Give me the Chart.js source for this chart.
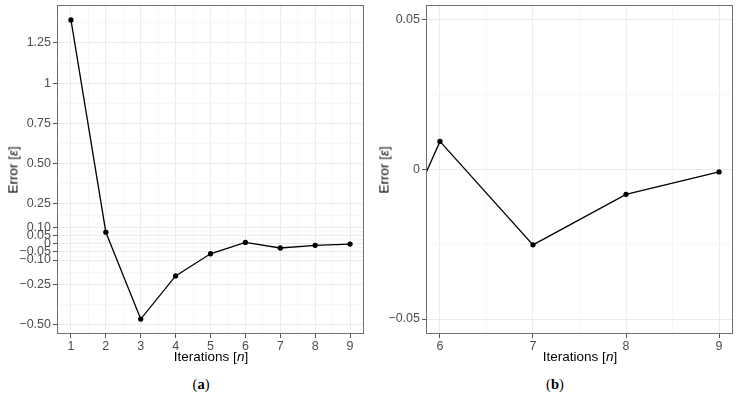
<!DOCTYPE html>
<html>
<head>
<meta charset="utf-8">
<script src="https://cdn.jsdelivr.net/npm/chart.js@4"></script>
<style>
  body { margin: 0; background: #fff; width: 739px; height: 402px; position: relative; overflow: hidden; font-family: "Liberation Sans", Arial, sans-serif; }
  .panel { position: absolute; top: 0; }
  .lbl { position: absolute; font-size: 13.5px; font-weight: normal; color: #000; white-space: nowrap; transform: translate(-50%, -50%); }
  .ylbl { writing-mode: vertical-rl; transform: translate(-50%, -50%) rotate(180deg); }
  .cap { position: absolute; font-family: "Liberation Serif", "DejaVu Serif", serif; font-size: 14.5px; transform: translate(-50%, -50%); }
</style>
</head>
<body>
<div class="panel" style="left:0"><canvas id="chartA" width="370" height="350"></canvas></div>
<div class="panel" style="left:370px"><canvas id="chartB" width="369" height="350"></canvas></div>

<div class="lbl ylbl" style="left:13px; top:170px">Error [<i>ε</i>]</div>
<div class="lbl" style="left:211px; top:356px">Iterations [<i>n</i>]</div>
<div class="lbl ylbl" style="left:384px; top:170px">Error [<i>ε</i>]</div>
<div class="lbl" style="left:580px; top:356px">Iterations [<i>n</i>]</div>
<div class="cap" style="left:201px; top:384px">(<b>a</b>)</div>
<div class="cap" style="left:555px; top:384px">(<b>b</b>)</div>

<script>
// data
const iterations = [1, 2, 3, 4, 5, 6, 7, 8, 9];
const errors = [1.393, 0.073, -0.467, -0.199, -0.061, 0.0094, -0.0252, -0.0083, -0.0008];

// panel (a) axis breaks
const aYBreaks = [-0.5, -0.25, -0.1, -0.05, 0, 0.05, 0.1, 0.25, 0.5, 0.75, 1, 1.25];
const aYLabels = ["\u22120.50", "\u22120.25", "\u22120.10", "\u22120.05", "0", "0.05", "0.10", "0.25", "0.50", "0.75", "1", "1.25"];
const aXBreaks = [1, 2, 3, 4, 5, 6, 7, 8, 9];

// panel (b) axis breaks
const bYBreaks = [-0.05, 0, 0.05];
const bYLabels = ["\u22120.05", "0", "0.05"];
const bXBreaks = [6, 7, 8, 9];

const points = iterations.map((x, i) => ({ x: x, y: errors[i] }));

/* ===== helpers ===== */

// minor breaks halfway between majors (plus one past each end), like ggplot
function minorBreaks(br) {
  const out = [];
  const ext = [br[0] - (br[1] - br[0])].concat(br, [br[br.length - 1] + (br[br.length - 1] - br[br.length - 2])]);
  for (let i = 0; i < ext.length - 1; i++) out.push((ext[i] + ext[i + 1]) / 2);
  return out;
}

function isMajor(v, br) {
  return br.some(b => Math.abs(b - v) < 1e-9);
}

const panelBorder = {
  id: "panelBorder",
  afterDraw(chart) {
    const a = chart.chartArea;
    const ctx = chart.ctx;
    ctx.save();
    ctx.strokeStyle = "#707070";
    ctx.lineWidth = 1;
    ctx.strokeRect(Math.round(a.left) + 0.5, Math.round(a.top) + 0.5, Math.round(a.right - a.left) - 1, Math.round(a.bottom - a.top) - 1);
    ctx.restore();
  }
};

function axis(min, max, breaks, labels, fitSize, isY) {
  return {
    type: "linear",
    min: min,
    max: max,
    afterBuildTicks: s => {
      const all = breaks.concat(minorBreaks(breaks)).filter(v => v >= min && v <= max);
      s.ticks = all.map(v => ({ value: v }));
    },
    afterFit: s => {
      if (isY) s.width = fitSize; else s.height = fitSize;
      // no extra room for overhanging labels
      s.paddingTop = 0; s.paddingBottom = 0; s.paddingLeft = 0; s.paddingRight = 0;
    },
    border: { display: false },
    grid: {
      color: c => isMajor(c.tick.value, breaks) ? "#EBEBEB" : "#F3F3F3",
      lineWidth: c => isMajor(c.tick.value, breaks) ? 1 : 0.7,
      tickColor: c => isMajor(c.tick.value, breaks) ? "#555555" : "rgba(0,0,0,0)",
      tickLength: 4,
      drawTicks: true
    },
    ticks: {
      autoSkip: false,
      maxRotation: 0,
      padding: isY ? 2 : 1,
      color: "#4D4D4D",
      font: { family: "'Liberation Sans', Arial, sans-serif", size: 12.5 },
      callback: v => {
        const i = breaks.findIndex(b => Math.abs(b - v) < 1e-9);
        if (i < 0) return "";
        return labels ? labels[i] : String(v);
      }
    }
  };
}

function createChart(ctx, xr, xb, yr, yb, yl, yw, pad) {
  return new Chart(ctx, {
    type: "line",
    data: {
      datasets: [{
        data: points,
        borderColor: "#000",
        backgroundColor: "#000",
        borderWidth: 1.3,
        pointRadius: 2,
        pointHoverRadius: 2,
        tension: 0,
        clip: 0
      }]
    },
    options: {
      responsive: false,
      animation: false,
      events: [],
      layout: { padding: pad },
      plugins: { legend: { display: false }, tooltip: { enabled: false } },
      scales: {
        x: axis(xr[0], xr[1], xb, null, 16, false),
        y: axis(yr[0], yr[1], yb, yl, yw, true)
      }
    },
    plugins: [panelBorder]
  });
}

createChart(document.getElementById("chartA"), [0.6, 9.4], aXBreaks, [-0.56, 1.486], aYBreaks, aYLabels, 57, { top: 5, right: 6, left: 0, bottom: 0 });
createChart(document.getElementById("chartB"), [5.85, 9.15], bXBreaks, [-0.055, 0.055], bYBreaks, bYLabels, 56, { top: 5, right: 6, left: 0, bottom: 0 });
</script>
</body>
</html>
